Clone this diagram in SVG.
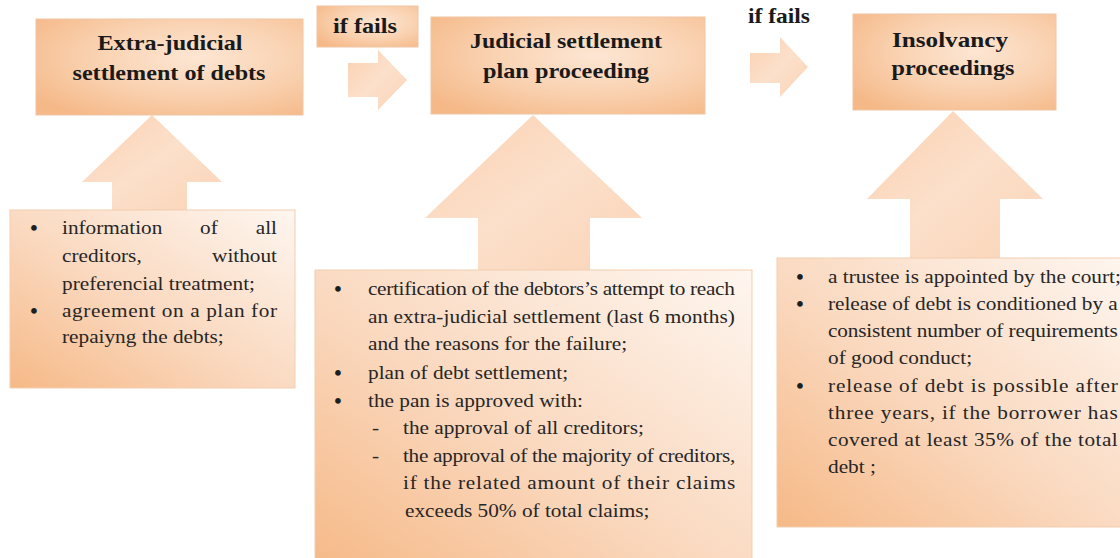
<svg xmlns="http://www.w3.org/2000/svg" width="1120" height="558" viewBox="0 0 1120 558">
<defs>
  <radialGradient id="gTitle" cx="0.6" cy="0.4" r="0.75">
    <stop offset="0" stop-color="#FDE6D3"/>
    <stop offset="0.55" stop-color="#F9D0AE"/>
    <stop offset="1" stop-color="#F5B887"/>
  </radialGradient>
  <linearGradient id="gArrow" x1="0" y1="0" x2="1" y2="1">
    <stop offset="0" stop-color="#FAD0B0"/>
    <stop offset="0.5" stop-color="#FCE0CB"/>
    <stop offset="1" stop-color="#FAD3B6"/>
  </linearGradient>
  <linearGradient id="gBody" x1="0" y1="1" x2="1" y2="0">
    <stop offset="0" stop-color="#F6B987"/>
    <stop offset="0.45" stop-color="#FAD8BE"/>
    <stop offset="1" stop-color="#FEF6F0"/>
  </linearGradient>
  <style>
    .tbox{fill:url(#gTitle);stroke:#EFC6A5;stroke-width:1}
    .bbox{fill:url(#gBody);stroke:#F1CDB0;stroke-width:1}
    .arr{fill:url(#gArrow);stroke:none}
    .title{font-family:"Liberation Serif","Times New Roman",serif;font-weight:bold;font-size:21px;fill:#1a1a1a;text-anchor:middle}
    .body{font-family:"Liberation Serif","Times New Roman",serif;font-size:18.5px;fill:#262626}
    .end{text-anchor:end}
    .bul{font-family:"Liberation Serif","Times New Roman",serif;font-size:21px;font-weight:bold;fill:#1e1e1e;text-anchor:middle}
  </style>
</defs>
<rect x="0" y="0" width="1120" height="558" fill="#ffffff"/>

<g id="connectors">
  <polygon class="arr" points="152,115 222,182 187,182 187,212 112,212 112,182 82,182"/>
  <polygon class="arr" points="533,115 642,218 590,218 590,272 478,272 478,218 425,218"/>
  <polygon class="arr" points="953,111 1043,199 1000,199 1000,260 910,260 910,199 867,199"/>
  <polygon class="arr" points="348,63 378,63 378,50 407,80 378,110 378,97 348,97"/>
  <polygon class="arr" points="750,53 780,53 780,37 808,67 780,97 780,83 750,83"/>
</g>

<g id="node-extra-judicial">
  <rect class="tbox" x="36" y="19" width="267" height="96"/>
  <text class="title" x="170" y="50" textLength="145" lengthAdjust="spacingAndGlyphs">Extra-judicial</text>
  <text class="title" x="169" y="80" textLength="193" lengthAdjust="spacingAndGlyphs">settlement of debts</text>
</g>

<g id="label-if-fails-1">
  <rect class="tbox" x="317" y="6" width="101" height="41"/>
  <text class="title" x="365" y="33" textLength="64" lengthAdjust="spacingAndGlyphs">if fails</text>
</g>

<g id="node-judicial">
  <rect class="tbox" x="431" y="17" width="274" height="97"/>
  <text class="title" x="566" y="48" textLength="192" lengthAdjust="spacingAndGlyphs">Judicial settlement</text>
  <text class="title" x="566" y="78" textLength="166" lengthAdjust="spacingAndGlyphs">plan proceeding</text>
</g>

<g id="label-if-fails-2">
  <text class="title" x="779" y="23" textLength="62" lengthAdjust="spacingAndGlyphs">if fails</text>
</g>

<g id="node-insolvency">
  <rect class="tbox" x="853" y="14" width="203" height="96"/>
  <text class="title" x="950" y="47" textLength="116" lengthAdjust="spacingAndGlyphs">Insolvancy</text>
  <text class="title" x="953" y="75" textLength="123" lengthAdjust="spacingAndGlyphs">proceedings</text>
</g>

<g id="node-extra-judicial-details">
  <rect class="bbox" x="10" y="210" width="285" height="178"/>
  <text class="bul" x="34" y="235">•</text>
  <text class="body" transform="matrix(1.15 0 0 1 62 234)">information</text>
  <text class="body" transform="matrix(1.15 0 0 1 200 234)">of</text>
  <text class="body end" transform="matrix(1.15 0 0 1 277 234)">all</text>
  <text class="body" transform="matrix(1.15 0 0 1 62 262)">creditors,</text>
  <text class="body end" transform="matrix(1.15 0 0 1 277 262)">without</text>
  <text class="body" transform="matrix(1.15 0 0 1 62 290)">preferencial treatment;</text>
  <text class="bul" x="34" y="318">•</text>
  <text class="body" transform="matrix(1.15 0 0 1 62 317)" textLength="187" lengthAdjust="spacing">agreement on a plan for</text>
  <text class="body" transform="matrix(1.15 0 0 1 62 343)">repaiyng the debts;</text>
</g>

<g id="node-judicial-details">
  <rect class="bbox" x="315" y="270" width="437" height="300"/>
  <text class="bul" x="338" y="296">•</text>
  <text class="body" transform="matrix(1.15 0 0 1 368 295)" textLength="319" lengthAdjust="spacing">certification of the debtors’s attempt to reach</text>
  <text class="body" transform="matrix(1.15 0 0 1 368 323)" textLength="319" lengthAdjust="spacing">an extra-judicial settlement (last 6 months)</text>
  <text class="body" transform="matrix(1.15 0 0 1 368 350)">and the reasons for the failure;</text>
  <text class="bul" x="338" y="380">•</text>
  <text class="body" transform="matrix(1.15 0 0 1 368 379)">plan of debt settlement;</text>
  <text class="bul" x="338" y="408">•</text>
  <text class="body" transform="matrix(1.15 0 0 1 368 407)">the pan is approved with:</text>
  <text class="body" transform="matrix(1.15 0 0 1 372 434)">-</text>
  <text class="body" transform="matrix(1.15 0 0 1 403 434)">the approval of all creditors;</text>
  <text class="body" transform="matrix(1.15 0 0 1 372 462)">-</text>
  <text class="body" transform="matrix(1.15 0 0 1 403 462)" textLength="289" lengthAdjust="spacing">the approval of the majority of creditors,</text>
  <text class="body" transform="matrix(1.15 0 0 1 403 489)" textLength="289" lengthAdjust="spacing">if the related amount of their claims</text>
  <text class="body" transform="matrix(1.15 0 0 1 405 517)">exceeds 50% of total claims;</text>
</g>

<g id="node-insolvency-details">
  <rect class="bbox" x="777" y="258" width="350" height="269"/>
  <text class="bul" x="800" y="284">•</text>
  <text class="body" transform="matrix(1.15 0 0 1 828 283)">a trustee is appointed by the court;</text>
  <text class="bul" x="800" y="311">•</text>
  <text class="body" transform="matrix(1.15 0 0 1 828 310)" textLength="252" lengthAdjust="spacing">release of debt is conditioned by a</text>
  <text class="body" transform="matrix(1.15 0 0 1 828 337)" textLength="252" lengthAdjust="spacing">consistent number of requirements</text>
  <text class="body" transform="matrix(1.15 0 0 1 828 364)">of good conduct;</text>
  <text class="bul" x="800" y="393">•</text>
  <text class="body" transform="matrix(1.15 0 0 1 828 392)" textLength="252" lengthAdjust="spacing">release of debt is possible after</text>
  <text class="body" transform="matrix(1.15 0 0 1 828 419)" textLength="252" lengthAdjust="spacing">three years, if the borrower has</text>
  <text class="body" transform="matrix(1.15 0 0 1 828 446)" textLength="252" lengthAdjust="spacing">covered at least 35% of the total</text>
  <text class="body" transform="matrix(1.15 0 0 1 828 473)">debt ;</text>
</g>
</svg>
